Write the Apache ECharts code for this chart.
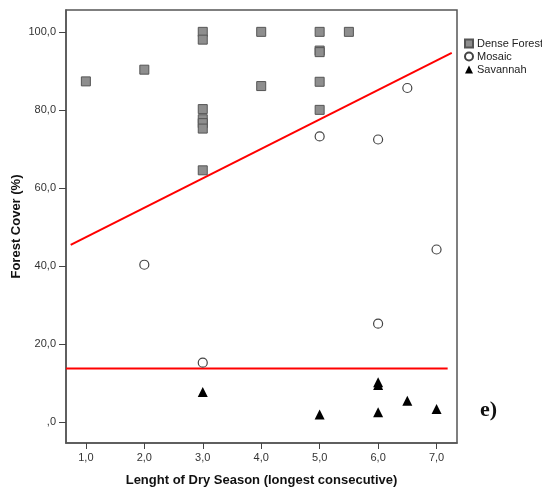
<!DOCTYPE html>
<html>
<head>
<meta charset="utf-8">
<script src="https://cdn.jsdelivr.net/npm/echarts@6/dist/echarts.min.js"></script>
<style>html,body{margin:0;padding:0;background:#fff}#c{width:542px;height:492px}</style>
</head>
<body>
<div id="c"></div>
<script>
var xTicks = [1, 2, 3, 4, 5, 6, 7];
var yTicks = [0, 20, 40, 60, 80, 100];

var denseForest = [
  [1, 87.3], [2, 90.3],
  [3, 100], [3, 98], [3, 80.2], [3, 77.6], [3, 76.6], [3, 75.2], [3, 64.5],
  [4, 100], [4, 86.1],
  [5, 100], [5, 95.2], [5, 94.8], [5, 87.2], [5, 80],
  [5.5, 100]
];
var mosaic = [
  [2, 40.3], [3, 15.2], [5, 73.2], [6, 72.4], [6, 25.2], [6.5, 85.6], [7, 44.2]
];
var savannah = [
  [3, 7.7], [5, 1.9], [6, 10.2], [6, 9.5], [6, 2.5], [6.5, 5.4], [7, 3.3]
];
var fitLineUpper = [[0.74, 45.4], [7.26, 94.6]];
var fitLineLower = [[0.66, 13.7], [7.19, 13.7]];

function fmt(v) {
  var s = v.toFixed(1).replace('.', ',');
  return s === '0,0' ? ',0' : s;
}

var chart = echarts.init(document.getElementById('c'), null, {renderer: 'canvas'});
var font = 'Liberation Sans, Arial, sans-serif';
chart.setOption({
  animation: false,
  backgroundColor: '#fff',
  grid: {left: 66, top: 10, right: 85, bottom: 49, containLabel: false, outerBoundsMode: 'none',
    show: true, borderColor: '#555', borderWidth: 1.5, backgroundColor: 'transparent'},
  legend: {
    orient: 'vertical', left: 464, top: 38, padding: 0, itemWidth: 8, itemHeight: 8, itemGap: 2,
    textStyle: {fontSize: 11, color: '#222', fontFamily: font, padding: [0, 0, 0, -1], lineHeight: 11},
    data: [
      {name: 'Dense Forest', icon: 'rect'},
      {name: 'Mosaic', icon: 'circle'},
      {name: 'Savannah', icon: 'triangle'}
    ]
  },
  xAxis: {
    type: 'value', min: 0.66, max: 7.35,
    name: 'Lenght of Dry Season (longest consecutive)',
    nameLocation: 'middle', nameGap: 31,
    nameTextStyle: {fontSize: 13, fontWeight: 'bold', color: '#111', fontFamily: font},
    splitLine: {show: false},
    axisLine: {show: true, onZero: false, lineStyle: {color: '#555', width: 1.5}},
    axisTick: {show: true, inside: false, length: 6, customValues: xTicks, lineStyle: {color: '#444'}},
    axisLabel: {customValues: xTicks, formatter: fmt, fontSize: 11, color: '#333', fontFamily: font, margin: 9}
  },
  yAxis: {
    type: 'value', min: -5.4, max: 105.6,
    name: 'Forest Cover (%)',
    nameLocation: 'middle', nameGap: 43, nameMoveOverlap: false,
    nameTextStyle: {fontSize: 13, fontWeight: 'bold', color: '#111', fontFamily: font},
    splitLine: {show: false},
    axisLine: {show: true, onZero: false, lineStyle: {color: '#555', width: 1.5}},
    axisTick: {show: true, inside: false, length: 7, customValues: yTicks, lineStyle: {color: '#444'}},
    axisLabel: {customValues: yTicks, formatter: fmt, fontSize: 11, color: '#333', fontFamily: font, margin: 10}
  },
  graphic: [{
    type: 'text', left: 480, top: 399,
    style: {text: 'e)', font: 'bold 22px "Liberation Serif", "Times New Roman", serif', fill: '#111'}
  }],
  series: [
    {type: 'line', data: fitLineUpper, showSymbol: false, silent: true, lineStyle: {color: '#ff0000', width: 2}, z: 1},
    {type: 'line', data: fitLineLower, showSymbol: false, silent: true, lineStyle: {color: '#ff0000', width: 2}, z: 1},
    {name: 'Dense Forest', type: 'scatter', data: denseForest, symbol: 'rect', symbolSize: 9,
      itemStyle: {color: '#8e8e8e', borderColor: '#555', borderWidth: 1, opacity: 1}, z: 3},
    {name: 'Mosaic', type: 'scatter', data: mosaic, symbol: 'circle', symbolSize: 9,
      itemStyle: {color: '#fff', borderColor: '#444', borderWidth: 1.2, opacity: 1}, z: 3},
    {name: 'Savannah', type: 'scatter', data: savannah, symbol: 'triangle', symbolSize: 10,
      itemStyle: {color: '#000', opacity: 1}, z: 3}
  ]
});
</script>
</body>
</html>
